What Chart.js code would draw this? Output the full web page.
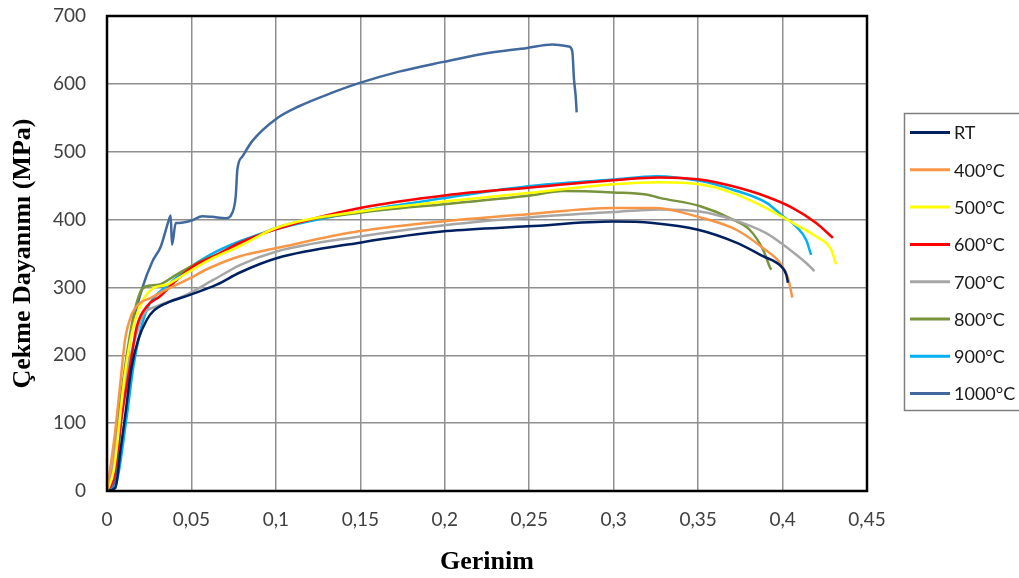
<!DOCTYPE html>
<html>
<head>
<meta charset="utf-8">
<script src="https://cdn.jsdelivr.net/npm/chart.js@4.4.0/dist/chart.umd.min.js"></script>
<style>
  body { margin: 0; background: #fff; }
</style>
</head>
<body>
<canvas id="chart" width="1019" height="578"></canvas>
<script>
// strain (x) / stress in MPa (y)
let rtStrain = [0, 0.005, 0.008, 0.0107, 0.0146, 0.0185, 0.0235, 0.0274, 0.0353, 0.0491, 0.0649, 0.0787, 0.1004, 0.1497, 0.201, 0.2493, 0.2996, 0.3231, 0.35, 0.3726, 0.3884, 0.3992, 0.4022, 0.4032];
let rtStress = [0, 5, 60, 110, 183, 223, 252, 265, 277, 289, 304, 322, 343, 366, 383, 390, 397, 395, 385, 366, 346, 331, 319, 307];

let t400Strain = [0, 0.0047, 0.0077, 0.0107, 0.0146, 0.0195, 0.0254, 0.0353, 0.0471, 0.061, 0.0787, 0.1004, 0.1497, 0.201, 0.2493, 0.2996, 0.325, 0.35, 0.3726, 0.3884, 0.3992, 0.4032, 0.4058];
let t400Stress = [0, 85, 154, 223, 260, 277, 284, 297, 311, 329, 346, 358, 383, 398, 408, 417, 417, 404, 385, 358, 334, 314, 285];

let t500Strain = [0, 0.004, 0.0107, 0.0156, 0.0215, 0.0274, 0.0353, 0.0471, 0.061, 0.0787, 0.1004, 0.1497, 0.201, 0.2493, 0.2996, 0.3272, 0.3509, 0.3706, 0.3903, 0.4061, 0.4199, 0.4287, 0.4317];
let t500Stress = [0, 30, 174, 242, 282, 299, 304, 321, 341, 361, 388, 412, 427, 439, 452, 455, 452, 439, 417, 395, 375, 356, 334];

let t600Strain = [0, 0.004, 0.0087, 0.0136, 0.0176, 0.0235, 0.0314, 0.0412, 0.0511, 0.0649, 0.0787, 0.1004, 0.1497, 0.201, 0.2493, 0.2996, 0.3272, 0.3509, 0.3706, 0.3903, 0.4061, 0.4199, 0.4298];
let t600Stress = [0, 20, 110, 183, 242, 272, 287, 311, 331, 348, 366, 386, 417, 436, 447, 458, 462, 459, 449, 434, 417, 395, 373];

let t700Strain = [0, 0.003, 0.0077, 0.0126, 0.0176, 0.0215, 0.0294, 0.0452, 0.0629, 0.0787, 0.1004, 0.1497, 0.201, 0.2493, 0.2996, 0.3272, 0.3509, 0.3706, 0.3903, 0.4041, 0.414, 0.4189];
let t700Stress = [0, 30, 110, 183, 233, 260, 272, 287, 311, 333, 353, 375, 392, 403, 411, 415, 412, 400, 380, 356, 336, 324];

let t800Strain = [0, 0.003, 0.0057, 0.0107, 0.0156, 0.0195, 0.0225, 0.0304, 0.0412, 0.0551, 0.0748, 0.1004, 0.1497, 0.201, 0.2493, 0.27, 0.2996, 0.3193, 0.3272, 0.3509, 0.3706, 0.3805, 0.3884, 0.3923, 0.3933];
let t800Stress = [0, 20, 85, 183, 257, 292, 301, 304, 319, 338, 358, 388, 410, 423, 435, 442, 440, 437, 432, 420, 400, 385, 356, 331, 326];

let t900Strain = [0, 0.005, 0.0117, 0.0156, 0.0195, 0.0235, 0.0274, 0.0353, 0.0471, 0.061, 0.0787, 0.1004, 0.1497, 0.201, 0.2493, 0.2996, 0.3252, 0.3509, 0.3706, 0.3903, 0.4002, 0.408, 0.414, 0.4169];
let t900Stress = [0, 8, 110, 183, 233, 267, 284, 302, 326, 348, 368, 386, 412, 432, 449, 459, 464, 457, 444, 425, 405, 390, 370, 348];

let t1000Strain = [0, 0.004, 0.009, 0.014, 0.0209, 0.0268, 0.0318, 0.0367, 0.0377, 0.0385, 0.0407, 0.0426, 0.0505, 0.0564, 0.0623, 0.0703, 0.0742, 0.0762, 0.0772, 0.0802, 0.0861, 0.0999, 0.1137, 0.1334, 0.1492, 0.1729, 0.1985, 0.2222, 0.2489, 0.2637, 0.2735, 0.2755, 0.2765, 0.2775, 0.2781];
let t1000Stress = [0, 8, 120, 230, 299, 338, 360, 400, 406, 363, 395, 395, 399, 405, 404, 402, 410, 434, 474, 493, 516, 548, 567, 587, 601, 618, 632, 644, 653, 658, 655, 648, 607, 582, 558];

let seriesNames = ["RT", "400°C", "500°C", "600°C", "700°C", "800°C", "900°C", "1000°C"];
let seriesColors = ["#002060", "#f79646", "#ffff00", "#ff0000", "#a6a6a6", "#77933c", "#00b0f0", "#41699e"];
let strainData = [rtStrain, t400Strain, t500Strain, t600Strain, t700Strain, t800Strain, t900Strain, t1000Strain];
let stressData = [rtStress, t400Stress, t500Stress, t600Stress, t700Stress, t800Stress, t900Stress, t1000Stress];

let datasets = [];
for (let i = 0; i < seriesNames.length; i++) {
  let pts = [];
  for (let j = 0; j < strainData[i].length; j++) {
    pts.push({ x: strainData[i][j], y: stressData[i][j] });
  }
  datasets.push({
    label: seriesNames[i],
    data: pts,
    borderColor: seriesColors[i],
    backgroundColor: seriesColors[i],
    borderWidth: 2.5,
    pointRadius: 0,
    fill: false,
    cubicInterpolationMode: "monotone"
  });
}

// frame round the plot and the boxed legend on the right
let framePlugin = {
  id: "frame",
  afterDraw(chart) {
    let ctx = chart.ctx;
    let a = chart.chartArea;
    ctx.save();
    ctx.strokeStyle = "#000";
    ctx.lineWidth = 2.5;
    ctx.strokeRect(a.left, a.top, a.right - a.left, a.bottom - a.top);

    ctx.strokeStyle = "#7f7f7f";
    ctx.lineWidth = 1.5;
    ctx.strokeRect(904.5, 113.5, 200, 297);
    ctx.font = "18px Lato";
    ctx.textBaseline = "middle";
    ctx.textAlign = "left";
    for (let i = 0; i < seriesNames.length; i++) {
      let y = 132.5 + i * 37.3;
      ctx.strokeStyle = seriesColors[i];
      ctx.lineWidth = 3;
      ctx.beginPath();
      ctx.moveTo(910, y);
      ctx.lineTo(950, y);
      ctx.stroke();
      ctx.fillStyle = "#1a1a1a";
      ctx.fillText(seriesNames[i], 954, y + 1);
    }
    ctx.restore();
  }
};

let myChart = new Chart(document.getElementById("chart"), {
  type: "line",
  data: { datasets: datasets },
  plugins: [framePlugin],
  options: {
    responsive: false,
    animation: false,
    layout: { padding: { left: 0, top: 16, right: 152, bottom: 0 } },
    plugins: {
      legend: { display: false },
      tooltip: { enabled: false }
    },
    scales: {
      x: {
        type: "linear",
        min: 0,
        max: 0.45,
        afterFit: function (s) {
          s.height = 87;
          s.paddingLeft = 0;
          s.paddingRight = 0;
        },
        border: { display: false },
        grid: { color: "#8f8f8f", lineWidth: 1.5, drawTicks: false },
        ticks: {
          stepSize: 0.05,
          padding: 17,
          color: "#404040",
          font: { family: "Lato", size: 19 },
          callback: function (v) {
            return String(Math.round(v * 100) / 100).replace(".", ",");
          }
        },
        title: {
          display: true,
          text: "Gerinim",
          color: "#000",
          font: { family: "Liberation Serif", size: 26, weight: "bold" },
          padding: { top: 0, bottom: 0 }
        }
      },
      y: {
        min: 0,
        max: 700,
        afterFit: function (s) {
          s.width = 107;
          s.paddingTop = 0;
          s.paddingBottom = 0;
        },
        border: { display: false },
        grid: { color: "#8f8f8f", lineWidth: 1.5, drawTicks: false },
        ticks: {
          stepSize: 100,
          padding: 21,
          color: "#404040",
          font: { family: "Lato", size: 19 }
        },
        title: {
          display: true,
          text: "Çekme Dayanımı (MPa)",
          color: "#000",
          font: { family: "Liberation Serif", size: 26, weight: "bold" },
          padding: { top: 8, bottom: 0 }
        }
      }
    }
  }
});
</script>
</body>
</html>
